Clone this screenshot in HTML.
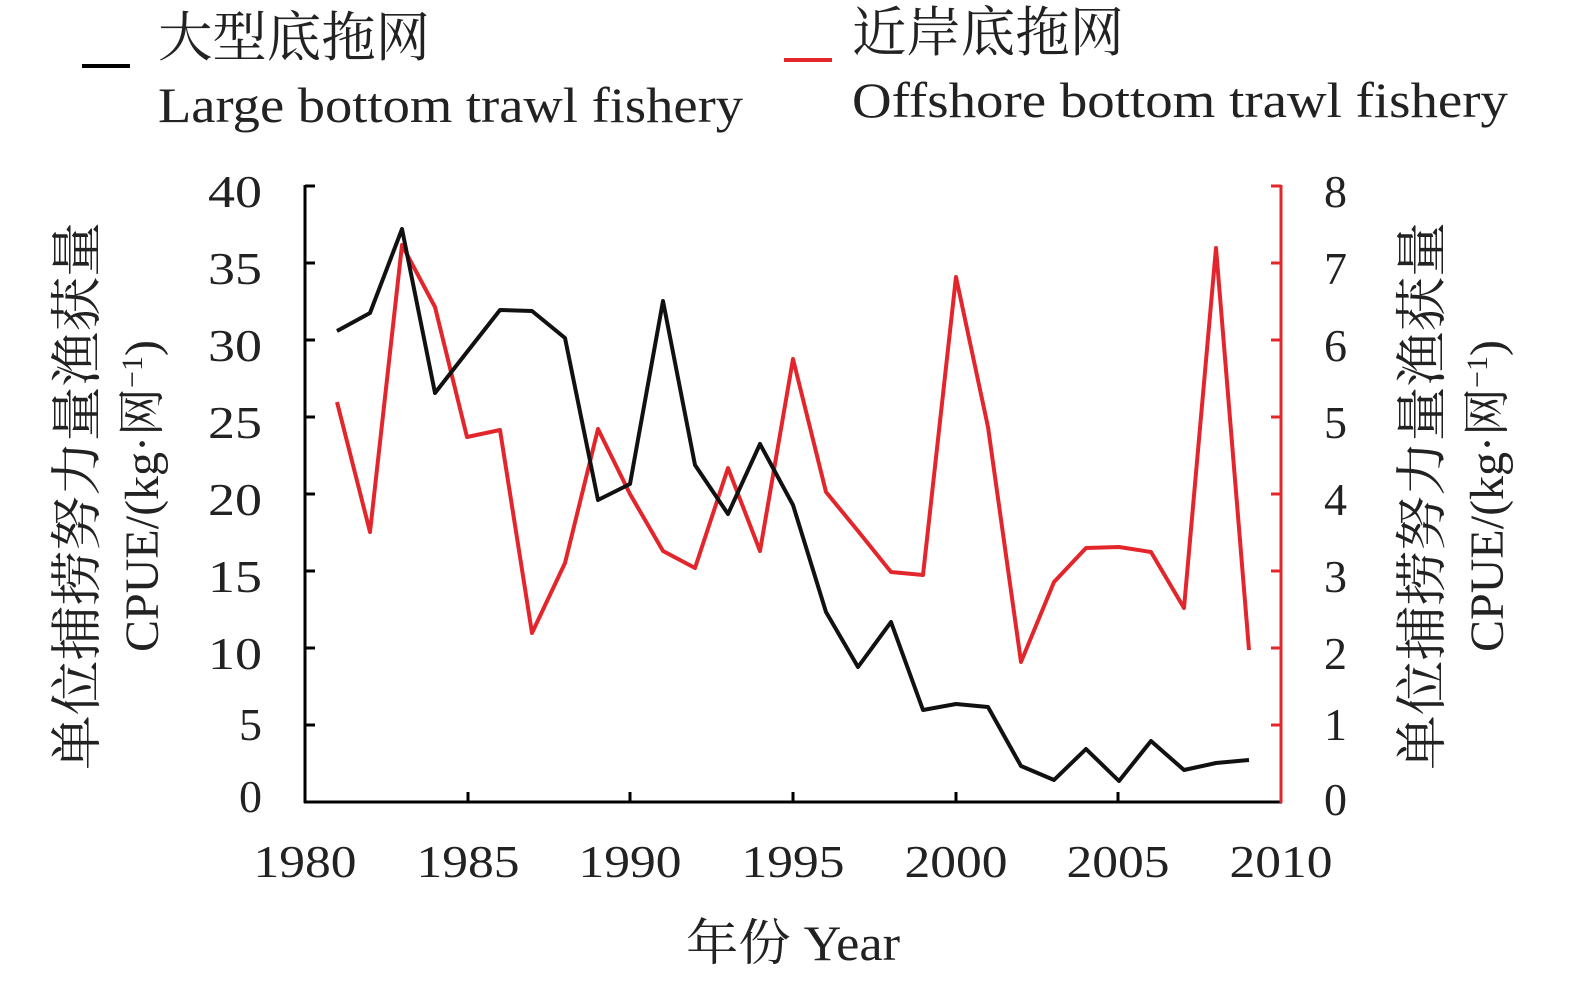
<!DOCTYPE html>
<html><head><meta charset="utf-8"><style>html,body{margin:0;padding:0;background:#fff}</style></head>
<body>
<svg width="1575" height="986" xmlns="http://www.w3.org/2000/svg" font-family="'Liberation Serif','Noto Serif CJK SC',serif">
<rect width="1575" height="986" fill="#fff"/>
<line x1="82" y1="66" x2="130" y2="66" stroke="#000" stroke-width="4"/>
<text x="158" y="56" font-size="54" fill="#222" textLength="272" lengthAdjust="spacingAndGlyphs">大型底拖网</text>
<text x="158" y="122" font-size="50" fill="#222" textLength="585" lengthAdjust="spacingAndGlyphs">Large bottom trawl fishery</text>
<line x1="784" y1="60" x2="832" y2="60" stroke="#e3262b" stroke-width="4"/>
<text x="852" y="51" font-size="54" fill="#222" textLength="272" lengthAdjust="spacingAndGlyphs">近岸底拖网</text>
<text x="852" y="117" font-size="50" fill="#222" textLength="656" lengthAdjust="spacingAndGlyphs">Offshore bottom trawl fishery</text>
<line x1="305" y1="185" x2="305" y2="803" stroke="#000" stroke-width="3"/>
<line x1="304" y1="802" x2="1282" y2="802" stroke="#000" stroke-width="3"/>
<line x1="1281" y1="185" x2="1281" y2="803" stroke="#e3262b" stroke-width="3"/>
<g stroke="#000" stroke-width="3">
<line x1="305" y1="186" x2="315" y2="186"/><line x1="305" y1="263" x2="315" y2="263"/><line x1="305" y1="340" x2="315" y2="340"/><line x1="305" y1="417" x2="315" y2="417"/><line x1="305" y1="494" x2="315" y2="494"/><line x1="305" y1="571" x2="315" y2="571"/><line x1="305" y1="648" x2="315" y2="648"/><line x1="305" y1="725" x2="315" y2="725"/>
<line x1="468" y1="802" x2="468" y2="792"/><line x1="630" y1="802" x2="630" y2="792"/><line x1="793" y1="802" x2="793" y2="792"/><line x1="956" y1="802" x2="956" y2="792"/><line x1="1118" y1="802" x2="1118" y2="792"/>
</g>
<g stroke="#e3262b" stroke-width="3">
<line x1="1271" y1="186" x2="1281" y2="186"/><line x1="1271" y1="263" x2="1281" y2="263"/><line x1="1271" y1="340" x2="1281" y2="340"/><line x1="1271" y1="417" x2="1281" y2="417"/><line x1="1271" y1="494" x2="1281" y2="494"/><line x1="1271" y1="571" x2="1281" y2="571"/><line x1="1271" y1="648" x2="1281" y2="648"/><line x1="1271" y1="725" x2="1281" y2="725"/>
</g>
<g font-size="46" fill="#222" text-anchor="end">
<text x="262" y="207" textLength="54" lengthAdjust="spacingAndGlyphs">40</text><text x="262" y="284" textLength="54" lengthAdjust="spacingAndGlyphs">35</text><text x="262" y="361" textLength="54" lengthAdjust="spacingAndGlyphs">30</text><text x="262" y="438" textLength="54" lengthAdjust="spacingAndGlyphs">25</text><text x="262" y="515" textLength="54" lengthAdjust="spacingAndGlyphs">20</text><text x="262" y="592" textLength="54" lengthAdjust="spacingAndGlyphs">15</text><text x="262" y="669" textLength="54" lengthAdjust="spacingAndGlyphs">10</text><text x="262" y="740">5</text><text x="262" y="812">0</text>
</g>
<g font-size="46" fill="#222">
<text x="1324" y="207">8</text><text x="1324" y="284">7</text><text x="1324" y="361">6</text><text x="1324" y="438">5</text><text x="1324" y="515">4</text><text x="1324" y="592">3</text><text x="1324" y="669">2</text><text x="1324" y="740">1</text><text x="1324" y="815">0</text>
</g>
<g font-size="46" fill="#222" text-anchor="middle">
<text x="305" y="877" textLength="103" lengthAdjust="spacingAndGlyphs">1980</text><text x="468" y="877" textLength="103" lengthAdjust="spacingAndGlyphs">1985</text><text x="630" y="877" textLength="103" lengthAdjust="spacingAndGlyphs">1990</text><text x="793" y="877" textLength="103" lengthAdjust="spacingAndGlyphs">1995</text><text x="956" y="877" textLength="103" lengthAdjust="spacingAndGlyphs">2000</text><text x="1118" y="877" textLength="103" lengthAdjust="spacingAndGlyphs">2005</text><text x="1281" y="877" textLength="103" lengthAdjust="spacingAndGlyphs">2010</text>
<text x="793" y="960" font-size="50" textLength="214" lengthAdjust="spacingAndGlyphs">年份 Year</text>
</g>
<g font-size="52" fill="#222" text-anchor="middle">
<text transform="translate(95,496) rotate(-90)" textLength="548" lengthAdjust="spacingAndGlyphs">单位捕捞努力量渔获量</text>
<text transform="translate(158,496) rotate(-90)" font-size="48">CPUE/(kg·网<tspan font-size="30" dy="-16">−1</tspan><tspan dy="16">)</tspan></text>
<text transform="translate(1440,496) rotate(-90)" textLength="548" lengthAdjust="spacingAndGlyphs">单位捕捞努力量渔获量</text>
<text transform="translate(1503,496) rotate(-90)" font-size="48">CPUE/(kg·网<tspan font-size="30" dy="-16">−1</tspan><tspan dy="16">)</tspan></text>
</g>
<polyline fill="none" stroke="#e3262b" stroke-width="4" stroke-linejoin="round" points="337,402 370,532 402,245 435,307 467,437 500,430 532,633 565,563 598,429 630,494 663,551 695,568 728,468 760,551 793,359 826,492 858,531 891,572 923,575 956,277 988,427 1021,662 1054,582 1086,548 1119,547 1151,552 1184,608 1216,248 1249,650"/>
<polyline fill="none" stroke="#111" stroke-width="4" stroke-linejoin="round" points="337,331 370,313 402,229 435,393 467,352 500,310 532,311 565,338 598,500 630,484 663,301 695,465 728,514 760,444 793,505 826,612 858,667 891,622 923,710 956,704 988,707 1021,766 1054,780 1086,749 1119,781 1151,741 1184,770 1216,763 1249,760"/>
</svg>
</body></html>
